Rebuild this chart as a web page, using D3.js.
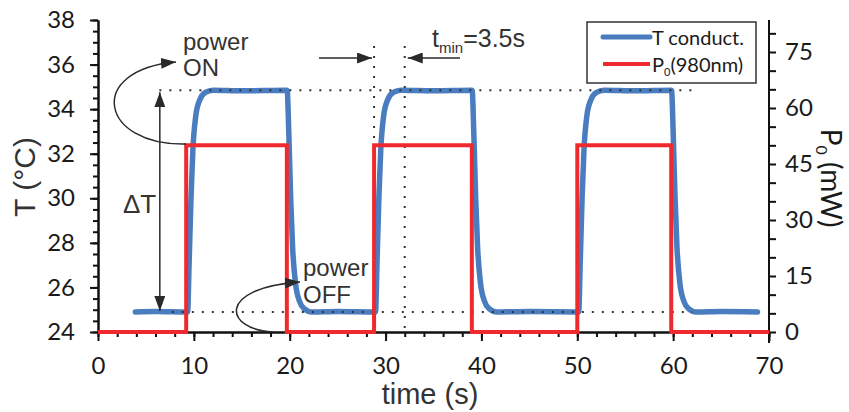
<!DOCTYPE html>
<html>
<head>
<meta charset="utf-8">
<script src="https://cdn.jsdelivr.net/npm/d3@7"></script>
<style>
  body { margin: 0; background: #fff; }
  svg { display: block; }
  .tick text { font-family: Lato, "Open Sans", sans-serif; font-size: 24px; fill: #1a1a1a; }
  .axis path, .axis line { stroke: #111; stroke-width: 2px; }
  .ann { font-family: "Liberation Sans", Arial, sans-serif; fill: #333; }
</style>
</head>
<body>
<script>
// laser power pulses (time s, power mW), stepped
const powerTrace = [[0, 0], [9.2, 50], [19.7, 0], [28.8, 50], [39.0, 0], [50.0, 50], [59.8, 0], [70, 0]];

const tempTrace = [
  [3.9, 24.9], [6.0, 24.92], [9.35, 24.9], [9.5, 27.0], [9.7, 30.0], [9.9, 32.2], [10.2, 33.7],
  [10.6, 34.4], [11.2, 34.75], [12.0, 34.85], [15.0, 34.82], [19.7, 34.85],
  [19.75, 34.8], [19.9, 33.0], [20.1, 30.0], [20.3, 27.8], [20.6, 26.2], [21.0, 25.4],
  [21.5, 25.05], [22.3, 24.9], [25.0, 24.92], [28.95, 24.9],
  [29.1, 27.0], [29.3, 30.0], [29.5, 32.2], [29.8, 33.7], [30.2, 34.4], [30.8, 34.75],
  [31.6, 34.85], [35.0, 34.83], [39.0, 34.85],
  [39.05, 34.8], [39.2, 33.0], [39.4, 30.0], [39.6, 27.8], [39.9, 26.2], [40.3, 25.4],
  [40.8, 25.05], [41.6, 24.9], [45.0, 24.92], [50.15, 24.9],
  [50.3, 27.0], [50.5, 30.0], [50.7, 32.2], [51.0, 33.7], [51.4, 34.4], [52.0, 34.75],
  [52.8, 34.85], [56.0, 34.82], [59.8, 34.85],
  [59.85, 34.8], [60.0, 33.0], [60.2, 30.0], [60.4, 27.8], [60.7, 26.2], [61.1, 25.4],
  [61.6, 25.05], [62.4, 24.9], [65.0, 24.92], [68.8, 24.9]
];

const timeMajor = [0, 10, 20, 30, 40, 50, 60, 70];
const tempMajor = [24, 26, 28, 30, 32, 34, 36, 38];
const powerMajor = [0, 15, 30, 45, 60, 75];

const levelHigh = 34.85, levelLow = 24.9;   // dotted guide levels
const tminStart = 28.8, tminEnd = 32.0;      // t_min markers

const width = 849, height = 412;
const svg = d3.select("body").append("svg").attr("width", width).attr("height", height);

const x = d3.scaleLinear().domain([0, 70]).range([98, 769]);
const yT = d3.scaleLinear().domain([24, 38]).range([332, 20]);
const yP = d3.scaleLinear().domain([0, 75]).range([332, 52]);

const defs = svg.append("defs");
function head(id, len, wid) {
  defs.append("marker")
    .attr("id", id)
    .attr("viewBox", `0 ${-wid / 2} ${len} ${wid}`)
    .attr("refX", len).attr("refY", 0)
    .attr("markerWidth", len).attr("markerHeight", wid)
    .attr("markerUnits", "userSpaceOnUse")
    .attr("orient", "auto-start-reverse")
  .append("path")
    .attr("d", `M0,${-wid / 2}L${len},0L0,${wid / 2}Z`)
    .attr("fill", "#2a2a2a");
}
head("arr", 15, 11);

// axes: minor ticks first, then labelled majors
svg.append("g").attr("class", "axis").attr("transform", "translate(0,332)")
  .call(d3.axisBottom(x).tickValues(d3.range(0, 71, 2)).tickSize(5).tickSizeOuter(0).tickFormat(""));
svg.append("g").attr("class", "axis").attr("transform", "translate(0,332)")
  .call(d3.axisBottom(x).tickValues(timeMajor).tickSize(9).tickSizeOuter(0).tickPadding(16).tickFormat(d3.format("d")));

svg.append("g").attr("class", "axis").attr("transform", "translate(98,0)")
  .call(d3.axisLeft(yT).tickValues(d3.range(24, 38.01, 0.5)).tickSize(5).tickSizeOuter(0).tickFormat(""));
svg.append("g").attr("class", "axis").attr("transform", "translate(98,0)")
  .call(d3.axisLeft(yT).tickValues(tempMajor).tickSize(8).tickSizeOuter(0).tickPadding(15).tickFormat(d3.format("d")));

const rightAx = svg.append("g").attr("class", "axis").attr("transform", "translate(769,0)")
  .call(d3.axisRight(yP).tickValues(d3.range(0, 81, 5)).tickSize(7).tickSizeOuter(0).tickPadding(9)
    .tickFormat(d => powerMajor.includes(d) ? d : ""));
rightAx.select(".domain").remove();
svg.append("line").attr("x1", 769).attr("x2", 769).attr("y1", 20).attr("y2", 343)
  .attr("stroke", "#111").attr("stroke-width", 2);

// temperature trace
svg.append("path").datum(tempTrace)
  .attr("fill", "none").attr("stroke", "#4a7cc0").attr("stroke-width", 5.5)
  .attr("stroke-linejoin", "round").attr("stroke-linecap", "round")
  .attr("d", d3.line().x(d => x(d[0])).y(d => yT(d[1])).curve(d3.curveMonotoneX));

// dotted guides
const dots = svg.append("g").attr("stroke", "#333").attr("stroke-width", 2)
  .attr("stroke-dasharray", "2,8").attr("fill", "none");
dots.append("line").attr("x1", x(6.4)).attr("x2", x(62)).attr("y1", yT(levelHigh)).attr("y2", yT(levelHigh));
dots.append("line").attr("x1", x(7.7)).attr("x2", x(62)).attr("y1", yT(levelLow)).attr("y2", yT(levelLow));
dots.append("line").attr("x1", x(tminStart)).attr("x2", x(tminStart)).attr("y1", 46).attr("y2", 332);
dots.append("line").attr("x1", x(tminEnd)).attr("x2", x(tminEnd)).attr("y1", 46).attr("y2", 332);

// power trace
svg.append("path").datum(powerTrace)
  .attr("fill", "none").attr("stroke", "#ef2a2e").attr("stroke-width", 4)
  .attr("stroke-linejoin", "miter")
  .attr("d", d3.line().x(d => x(d[0])).y(d => yP(d[1])).curve(d3.curveStepAfter));

// annotations
const ann = svg.append("g").attr("stroke", "#2a2a2a").attr("stroke-width", 1.5).attr("fill", "none");
ann.append("path").attr("d", "M186,144 C100,146 85,70 176,62").attr("marker-end", "url(#arr)");
ann.append("path").attr("d", "M273,332 C225,330 215,288 300,282").attr("marker-end", "url(#arr)");
ann.append("line").attr("x1", x(6.45)).attr("x2", x(6.45)).attr("y1", yT(levelHigh) + 2).attr("y2", yT(levelLow) - 1)
  .attr("marker-start", "url(#arr)").attr("marker-end", "url(#arr)");
ann.append("line").attr("x1", 319).attr("x2", x(tminStart) - 2).attr("y1", 58).attr("y2", 58).attr("marker-end", "url(#arr)");
ann.append("line").attr("x1", 460).attr("x2", x(tminEnd) + 3).attr("y1", 58).attr("y2", 58).attr("marker-end", "url(#arr)");

const txt = (s, px, py, size) => svg.append("text").attr("class", "ann")
  .attr("x", px).attr("y", py).attr("font-size", size).text(s);
txt("power", 183, 50, 24);
txt("ON", 183, 76, 24);
txt("power", 303, 276, 24);
txt("OFF", 303, 303, 24);
txt("\u0394T", 123, 213, 26);
const tm = svg.append("text").attr("class", "ann").attr("x", 432).attr("y", 47).attr("font-size", 25);
tm.append("tspan").text("t");
tm.append("tspan").attr("font-size", 15).attr("dy", 6).text("min");
tm.append("tspan").attr("dy", -6).text("=3.5s");

// axis titles
svg.append("text").attr("class", "ann").attr("font-size", 29).attr("fill", "#1a1a1a")
  .attr("text-anchor", "middle").attr("x", 430).attr("y", 404).text("time (s)");
svg.append("text").attr("class", "ann").attr("font-size", 30).attr("fill", "#1a1a1a")
  .attr("text-anchor", "middle").attr("transform", "translate(35,177) rotate(-90)").text("T (\u00B0C)");
const pl = svg.append("text").attr("font-family", "Lato, sans-serif").attr("font-size", 28).attr("fill", "#1a1a1a")
  .attr("text-anchor", "middle").attr("transform", "translate(821,178) rotate(90)");
pl.append("tspan").text("P");
pl.append("tspan").attr("font-size", 16).attr("dy", 5).text("0");
pl.append("tspan").attr("dy", -5).text(" (mW)");

// legend
const lg = svg.append("g");
lg.append("rect").attr("x", 587).attr("y", 22).attr("width", 169).attr("height", 61)
  .attr("fill", "#fff").attr("stroke", "#333").attr("stroke-width", 1.5);
lg.append("line").attr("x1", 603).attr("x2", 650).attr("y1", 37).attr("y2", 37)
  .attr("stroke", "#4a7cc0").attr("stroke-width", 5).attr("stroke-linecap", "round");
lg.append("line").attr("x1", 603).attr("x2", 650).attr("y1", 64).attr("y2", 64)
  .attr("stroke", "#ef2a2e").attr("stroke-width", 4);
lg.append("text").attr("font-family", "Lato, sans-serif").attr("font-size", 20).attr("fill", "#1a1a1a")
  .attr("x", 652).attr("y", 45).text("T conduct.");
const l2 = lg.append("text").attr("font-family", "Lato, sans-serif").attr("font-size", 20).attr("fill", "#1a1a1a")
  .attr("x", 652).attr("y", 72);
l2.append("tspan").text("P");
l2.append("tspan").attr("font-size", 11).attr("dy", 4).text("0");
l2.append("tspan").attr("dy", -4).text("(980nm)");
</script>
</body>
</html>
